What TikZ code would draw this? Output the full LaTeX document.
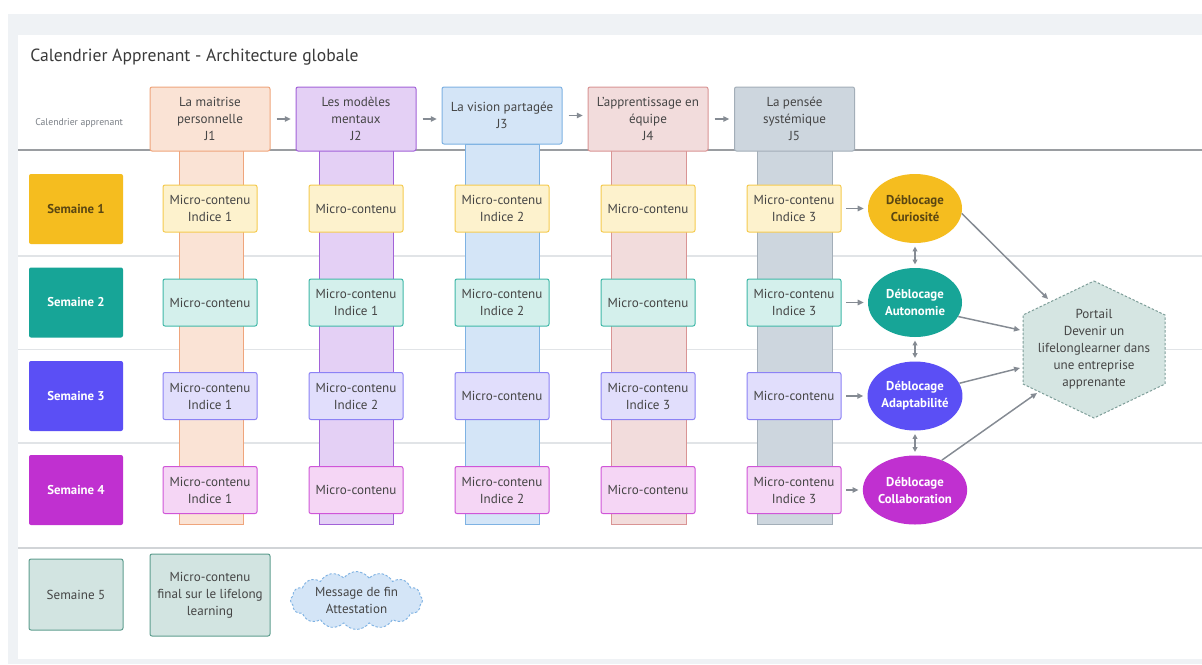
\documentclass[tikz,border=0pt]{standalone}
\usepackage{fontspec}
\setmainfont{PT Sans}
\usetikzlibrary{shapes.geometric,shapes.symbols,arrows.meta}
\definecolor{panelbg}{HTML}{EFF2F5}
\definecolor{txt}{HTML}{454545}
\definecolor{titlec}{HTML}{3A3A3A}
\definecolor{labc}{HTML}{7A7F86}
\definecolor{sepc}{HTML}{E1E4E7}
\definecolor{hdrline}{HTML}{9A9DA1}
\definecolor{arrc}{HTML}{858B93}
\definecolor{jAf}{HTML}{FAE3D5}\definecolor{jAd}{HTML}{EFA57C}
\definecolor{jBf}{HTML}{E4D0F5}\definecolor{jBd}{HTML}{A262D8}
\definecolor{jCf}{HTML}{D4E5F7}\definecolor{jCd}{HTML}{7EB2E3}
\definecolor{jDf}{HTML}{F2DCDC}\definecolor{jDd}{HTML}{D99494}
\definecolor{jEf}{HTML}{CDD6DE}\definecolor{jEd}{HTML}{A3AEB8}
\definecolor{rAf}{HTML}{FDF2CD}\definecolor{rAd}{HTML}{F5CB50}
\definecolor{rBf}{HTML}{D4F0EC}\definecolor{rBd}{HTML}{40B8A8}
\definecolor{rCf}{HTML}{E1DEFC}\definecolor{rCd}{HTML}{8C82F5}
\definecolor{rDf}{HTML}{F5D6F5}\definecolor{rDd}{HTML}{D055D8}
\definecolor{wA}{HTML}{F5BD1F}
\definecolor{wB}{HTML}{17A597}
\definecolor{wC}{HTML}{5B4FF5}
\definecolor{wD}{HTML}{C030D0}
\definecolor{wAt}{HTML}{5A4612}
\definecolor{finf}{HTML}{D2E4E1}\definecolor{find}{HTML}{5E9E8F}
\definecolor{hexf}{HTML}{D5E5E2}\definecolor{hexd}{HTML}{7E9E99}
\tikzset{
  base/.style={inner sep=0pt, align=center, text=txt, line width=0.75pt, rounded corners=1.5pt},
  hdr/.style={base, minimum width=90pt, minimum height=48pt},
  micro/.style={base, minimum width=70.5pt, minimum height=35.25pt},
  wk/.style={base, draw=none, minimum width=70.5pt, minimum height=52.5pt, font=\fontsize{9.6}{12.75}\selectfont\bfseries},
  unlock/.style={ellipse, inner sep=0pt, align=center, minimum width=70.5pt, minimum height=51.75pt, font=\fontsize{9.6}{12.75}\selectfont\bfseries},
  bar/.style={line width=0.75pt},
  arr/.style={draw=arrc, line width=1.1pt, -{Triangle[length=4.5pt,width=4pt]}},
  darr/.style={draw=arrc, line width=1.1pt, {Triangle[length=3.5pt,width=3.5pt]}-{Triangle[length=3.5pt,width=3.5pt]}},
  sep/.style={draw=sepc, line width=0.9pt},
  fine/.style={dash pattern=on 1.8pt off 1.4pt}
}
\begin{document}
\begin{tikzpicture}[x=0.75pt,y=-0.75pt, font=\fontsize{9.8}{12.75}\selectfont]
\useasboundingbox (0,0) rectangle (1202,664);
\fill[white] (0,0) rectangle (1202,664);
\fill[panelbg] (8,14) rectangle (1202,664);
\fill[white] (18,35) rectangle (1202,659);

\node[anchor=west, inner sep=0pt, text=titlec, font=\fontsize{13.2}{15}\selectfont] (title) at (30,57) {Calendrier Apprenant - Architecture globale};
\node[anchor=west, inner sep=0pt, text=labc, font=\fontsize{7.3}{8}\selectfont] (cal) at (35,123) {Calendrier apprenant};

% separators
\draw[draw=hdrline, line width=1pt] (18,150) -- (1202,150);
\draw[sep] (18,256) -- (1202,256);
\draw[sep] (18,349.5) -- (1202,349.5);
\draw[sep] (18,443) -- (1202,443);
\draw[sep, draw=sepc!93!black] (18,548) -- (1202,548);

% bars
\draw[bar, fill=jAf, draw=jAd] (179,150) rectangle (243,524);
\draw[bar, fill=jBf, draw=jBd] (319,150) rectangle (393,524);
\draw[bar, fill=jCf, draw=jCd] (465,144) rectangle (539,524);
\draw[bar, fill=jDf, draw=jDd] (611,150) rectangle (686,524);
\draw[bar, fill=jEf, draw=jEd] (757,150) rectangle (832,524);

% headers
\node[hdr, fill=jAf, draw=jAd] (h1) at (210,119) {La maitrise\\personnelle\\J1};
\node[hdr, fill=jBf, draw=jBd] (h2) at (356,119) {Les modèles\\mentaux\\J2};
\node[hdr, fill=jCf, draw=jCd, minimum height=42.75pt] (h3) at (502,115.5) {La vision partagée\\J3};
\node[hdr, fill=jDf, draw=jDd] (h4) at (648,119) {L'apprentissage en\\équipe\\J4};
\node[hdr, fill=jEf, draw=jEd] (h5) at (794.5,119) {La pensée\\systémique\\J5};
\draw[arr, shorten <=4.5pt, shorten >=3.5pt] (h1.east) -- (h1.east -| h2.west);
\draw[arr, shorten <=4.5pt, shorten >=3.5pt] (h2.east) -- (h2.east -| h3.west);
\draw[arr, shorten <=4.5pt, shorten >=3.5pt] (h3.east) -- (h3.east -| h4.west);
\draw[arr, shorten <=4.5pt, shorten >=3.5pt] (h4.east) -- (h4.east -| h5.west);

% weeks
\node[wk, fill=wA, text=wAt] (s1) at (76,209) {Semaine 1};
\node[wk, fill=wB, text=white] (s2) at (76,302.5) {Semaine 2};
\node[wk, fill=wC, text=white] (s3) at (76,396) {Semaine 3};
\node[wk, fill=wD, text=white] (s4) at (76,490) {Semaine 4};

% row 1
\node[micro, fill=rAf, draw=rAd] (m11) at (210,208.5) {Micro-contenu\\Indice 1};
\node[micro, fill=rAf, draw=rAd] (m12) at (356,208.5) {Micro-contenu};
\node[micro, fill=rAf, draw=rAd] (m13) at (502,208.5) {Micro-contenu\\Indice 2};
\node[micro, fill=rAf, draw=rAd] (m14) at (648,208.5) {Micro-contenu};
\node[micro, fill=rAf, draw=rAd] (m15) at (794,208.5) {Micro-contenu\\Indice 3};
% row 2
\node[micro, fill=rBf, draw=rBd] (m21) at (210,302.5) {Micro-contenu};
\node[micro, fill=rBf, draw=rBd] (m22) at (356,302.5) {Micro-contenu\\Indice 1};
\node[micro, fill=rBf, draw=rBd] (m23) at (502,302.5) {Micro-contenu\\Indice 2};
\node[micro, fill=rBf, draw=rBd] (m24) at (648,302.5) {Micro-contenu};
\node[micro, fill=rBf, draw=rBd] (m25) at (794,302.5) {Micro-contenu\\Indice 3};
% row 3
\node[micro, fill=rCf, draw=rCd] (m31) at (210,396) {Micro-contenu\\Indice 1};
\node[micro, fill=rCf, draw=rCd] (m32) at (356,396) {Micro-contenu\\Indice 2};
\node[micro, fill=rCf, draw=rCd] (m33) at (502,396) {Micro-contenu};
\node[micro, fill=rCf, draw=rCd] (m34) at (648,396) {Micro-contenu\\Indice 3};
\node[micro, fill=rCf, draw=rCd] (m35) at (794,396) {Micro-contenu};
% row 4
\node[micro, fill=rDf, draw=rDd] (m41) at (210,490) {Micro-contenu\\Indice 1};
\node[micro, fill=rDf, draw=rDd] (m42) at (356,490) {Micro-contenu};
\node[micro, fill=rDf, draw=rDd] (m43) at (502,490) {Micro-contenu\\Indice 2};
\node[micro, fill=rDf, draw=rDd] (m44) at (648,490) {Micro-contenu};
\node[micro, fill=rDf, draw=rDd] (m45) at (794,490) {Micro-contenu\\Indice 3};

% unlocks
\node[unlock, fill=wA, text=wAt] (e1) at (915,208.5) {Déblocage\\Curiosité};
\node[unlock, fill=wB, text=white] (e2) at (915,302.5) {Déblocage\\Autonomie};
\node[unlock, fill=wC, text=white] (e3) at (915,396) {Déblocage\\Adaptabilité};
\node[unlock, fill=wD, text=white] (e4) at (915,490) {Déblocage\\Collaboration};
\foreach \r in {1,2,3,4}{
  \draw[arr, shorten <=3.5pt, shorten >=3pt] (m\r5.east) -- (m\r5.east -| e\r.west);
}
\draw[darr, shorten <=2.5pt, shorten >=2.5pt] (e1.south) -- (e2.north);
\draw[darr, shorten <=2.5pt, shorten >=2.5pt] (e2.south) -- (e3.north);
\draw[darr, shorten <=2.5pt, shorten >=2.5pt] (e3.south) -- (e4.north);

% portal hexagon
\coordinate (hxT) at (1094,281);
\coordinate (hxTR) at (1165,315);
\coordinate (hxBR) at (1165,384);
\coordinate (hxB) at (1094,418);
\coordinate (hxBL) at (1023,384);
\coordinate (hxTL) at (1023,315);
\draw[fill=hexf, draw=hexd, line width=0.75pt, fine] (hxT) -- (hxTR) -- (hxBR) -- (hxB) -- (hxBL) -- (hxTL) -- cycle;
\node[align=center, text=txt, inner sep=0pt] (portal) at (1094,349.5) {Portail\\Devenir un\\lifelonglearner dans\\une entreprise\\apprenante};
\coordinate (pin1) at (1048,299);
\coordinate (pin2) at (1020,330);
\coordinate (pin3) at (1020,368);
\coordinate (pin4) at (1037,393);
\draw[arr] (e1.-6) -- (pin1);
\draw[arr] (e2.-18) -- (pin2);
\draw[arr] (e3.16) -- (pin3);
\draw[arr] (e4.48) -- (pin4);

% week 5
\node[base, fill=finf, draw=find, minimum width=70.5pt, minimum height=53.25pt] (s5) at (76,594.5) {Semaine 5};
\node[base, fill=finf, draw=find, minimum width=90pt, minimum height=61.5pt] (fin) at (210,595) {Micro-contenu\\final sur le lifelong\\learning};
\node[cloud, cloud puffs=16, cloud puff arc=110, aspect=2.5, fill=jCf, draw=jCd, line width=0.7pt, fine, inner sep=0pt, minimum width=99pt, minimum height=42pt, align=center, text=txt] (msg) at (356.5,600.5) {Message de fin\\Attestation};
\end{tikzpicture}
\end{document}
